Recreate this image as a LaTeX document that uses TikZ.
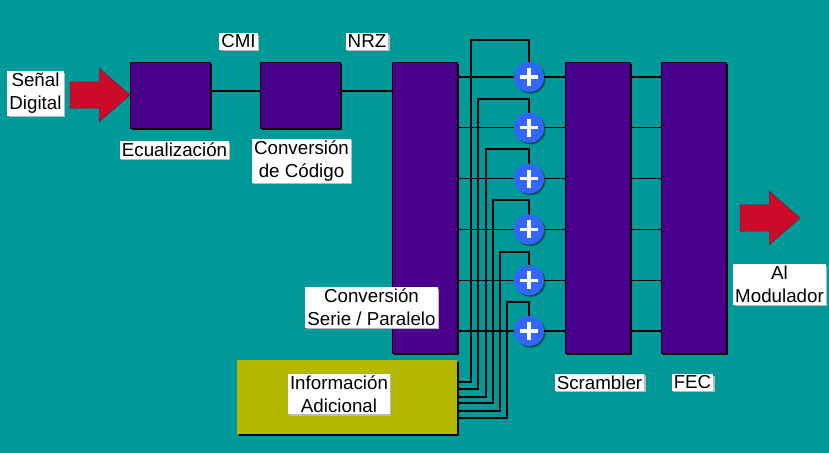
\documentclass[tikz,border=0pt]{standalone}
\usepackage{fontspec}
\setmainfont{Liberation Sans}
\usetikzlibrary{shapes.arrows,shadows,calc}
\definecolor{bg}{HTML}{009999}
\definecolor{purp}{HTML}{4B008C}
\definecolor{olivebox}{HTML}{B5B800}
\definecolor{redarr}{HTML}{CC0A2A}
\definecolor{addblue}{HTML}{3366FF}
\tikzset{
  blk/.style={draw=black, line width=0.8pt, fill=purp, inner sep=0pt, outer sep=0pt,
    drop shadow={shadow xshift=0.06cm, shadow yshift=-0.06cm, fill=black, opacity=1}},
  infobox/.style={blk, fill=olivebox, draw=none},
  lbl/.style={fill=white, align=center, inner xsep=0.06cm, inner ysep=0.05cm,
    font=\fontsize{16}{19.8}\selectfont,
    drop shadow={shadow xshift=0.04cm, shadow yshift=-0.04cm, fill=gray!55, opacity=1}},
  wire/.style={line width=0.9pt, draw=black},
  adder/.style={circle, fill=addblue, minimum size=0.9cm, inner sep=0pt, outer sep=0pt,
    drop shadow={shadow xshift=0.05cm, shadow yshift=-0.05cm, fill=black, opacity=0.45},
    path picture={\draw[white, line width=2.8pt]
      ([xshift=-0.27cm]path picture bounding box.center) -- ([xshift=0.27cm]path picture bounding box.center)
      ([yshift=-0.27cm]path picture bounding box.center) -- ([yshift=0.27cm]path picture bounding box.center);}},
  bigarrow/.style={single arrow, fill=redarr, draw=redarr!70!black, line width=0.3pt,
    inner sep=0.39cm, minimum height=1.8cm, single arrow head extend=0.405cm,
    single arrow tip angle=82, shape border rotate=0, outer sep=0pt}
}
\begin{document}
\begin{tikzpicture}[x=0.03cm, y=-0.03cm]
\fill[bg] (0,0) rectangle (829,453);
\useasboundingbox (0,0) rectangle (829,453);

% blocks
\node[blk, minimum width=2.4cm, minimum height=1.98cm] (eq) at (170,95) {};
\node[blk, minimum width=2.4cm, minimum height=1.98cm] (cc) at (300,95) {};
\node[blk, minimum width=1.95cm, minimum height=8.73cm] (sp) at (424.5,207.5) {};
\node[blk, minimum width=1.95cm, minimum height=8.73cm] (scr) at (597.5,207.5) {};
\node[blk, minimum width=1.95cm, minimum height=8.73cm] (fec) at (693.5,207.5) {};
\node[infobox, minimum width=6.6cm, minimum height=2.22cm] (info) at (347,397) {};

% arrows
\node[bigarrow, anchor=tip] (inarrow) at (eq.west) {};
\node[bigarrow, anchor=tip] (outarrow) at (800,218) {};

% serial wires
\draw[wire] ([yshift=0.12cm]eq.east) -- ([yshift=0.12cm]cc.west);
\draw[wire] ([yshift=0.12cm]cc.east) -- ([yshift=0.12cm]sp.west |- cc.east);

% adders
\foreach \i/\y in {1/77,2/127.8,3/178.6,4/229.4,5/280.2,6/331}{
  \coordinate (ac\i) at (529,\y);
}
\foreach \i in {1,...,6}{
  \draw[wire] (sp.east |- ac\i) -- (ac\i);
  \draw[wire] (ac\i) -- (scr.west |- ac\i);
  \draw[wire] (scr.east |- ac\i) -- (fec.west |- ac\i);
}
\foreach \i/\x/\yb/\yt in {1/471/382/40, 2/478/389/99, 3/486/397/149, 4/493/403/200, 5/500/411/252, 6/507/418/302}{
  \draw[wire] (info.east |- 0,\yb) -- (\x,\yb) -- (\x,\yt) -- (ac\i |- 0,\yt) -- (ac\i);
}
\foreach \i in {1,...,6}{
  \node[adder] (a\i) at (ac\i) {};
}

% labels
\node[lbl] (lsd) at (35.5,93.5) {Señal\\Digital};
\node[lbl] (lcmi) at (238.5,41.5) {CMI};
\node[lbl] (lnrz) at (367,41.5) {NRZ};
\node[lbl] (leq) at (174.5,150) {Ecualización};
\node[lbl] (lcc) at (301.5,161) {Conversión\\de Código};
\node[lbl] (lsp) at (371.5,307.5) {Conversión\\Serie / Paralelo};
\node[lbl] (linfo) at (339,394) {Información\\Adicional};
\node[lbl] (lscr) at (599.5,382.5) {Scrambler};
\node[lbl] (lfec) at (692.5,382.5) {FEC};
\node[lbl] (lmod) at (779.5,284.5) {Al\\Modulador};
\end{tikzpicture}
\end{document}
